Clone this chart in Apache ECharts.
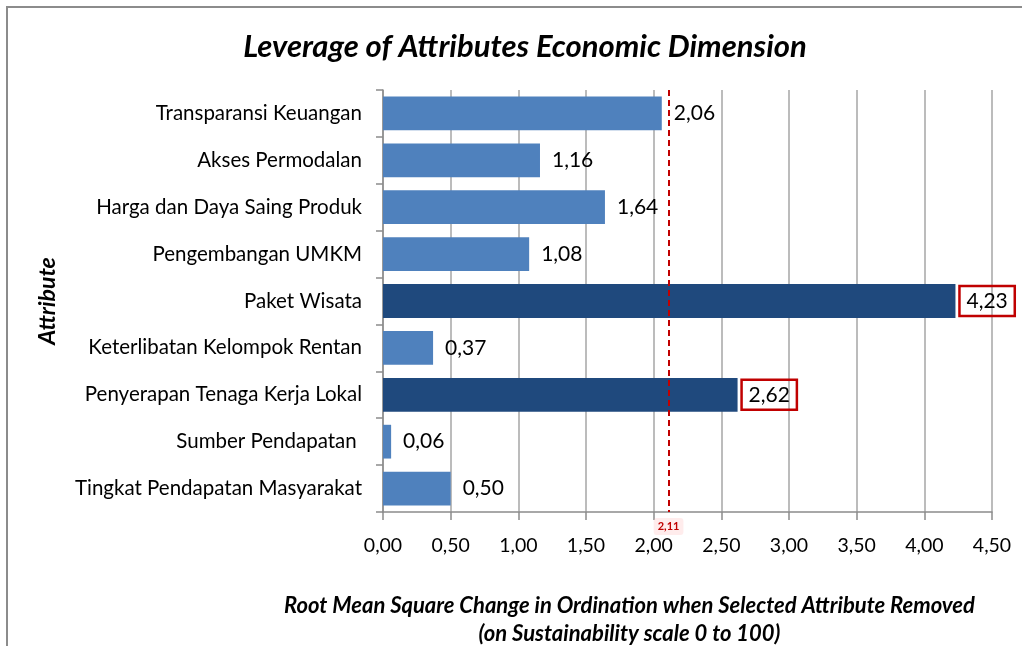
<!DOCTYPE html>
<html>
<head>
<meta charset="utf-8">
<script src="https://cdn.jsdelivr.net/npm/echarts@6/dist/echarts.min.js"></script>
<style>
html, body { margin: 0; padding: 0; background: #fff; }
#leverage_chart { width: 1022px; height: 646px; }
</style>
</head>
<body>
<div id="leverage_chart"></div>
<script>
var attributeNames = [
	'Transparansi Keuangan',
	'Akses Permodalan',
	'Harga dan Daya Saing Produk',
	'Pengembangan UMKM',
	'Paket Wisata',
	'Keterlibatan Kelompok Rentan',
	'Penyerapan Tenaga Kerja Lokal',
	'Sumber Pendapatan ',
	'Tingkat Pendapatan Masyarakat'
];
var rmsValues = [2.06, 1.16, 1.64, 1.08, 4.23, 0.37, 2.62, 0.06, 0.50];
var highlighted = [false, false, false, false, true, false, true, false, false];
var cutoffValue = 2.11;

var fontName = 'Lato, "Open Sans", sans-serif';

function fmtComma(v){
	return v.toFixed(2).replace('.', ',');
}

var chartInit = echarts.init(document.getElementById('leverage_chart'));

var barData = [];
for (var i = 0; i < rmsValues.length; i++) {
	barData.push({
		value : rmsValues[i],
		itemStyle : { color : highlighted[i] ? '#1F497D' : '#4F81BD' },
		label : highlighted[i] ? {
			borderColor : '#C00000',
			borderWidth : 2.5,
			padding : [5, 7, 4, 7],
			distance : 4
		} : {}
	});
}

var option = {
	animation : false,
	title : {
		text : 'Leverage of Attributes Economic Dimension',
		left : 520,
		textAlign : 'center',
		top : 26,
		textStyle : {
			fontFamily : fontName,
			fontSize : 31,
			fontWeight : 'bold',
			fontStyle : 'italic',
			color : '#000'
		}
	},
	graphic : [{
		type : 'rect',
		shape : { x : 7, y : 7, width : 1100, height : 700 },
		style : { fill : 'none', stroke : '#8c8c8c', lineWidth : 2 },
		silent : true
	}],
	grid : {
		left : 383,
		right : 30,
		top : 90,
		bottom : 134,
		outerBoundsMode : 'none'
	},
	xAxis : {
		type : 'value',
		min : 0,
		max : 4.5,
		interval : 0.5,
		name : 'Root Mean Square Change in Ordination when Selected Attribute Removed\n(on Sustainability scale 0 to 100)',
		nameLocation : 'middle',
		nameGap : 80,
		nameTextStyle : {
			fontFamily : fontName,
			fontSize : 22,
			fontWeight : 'bold',
			fontStyle : 'italic',
			color : '#000',
			lineHeight : 28,
			padding : [0, 116, 0, 0]
		},
		axisLine : { show : true, lineStyle : { color : '#8c8c8c', width : 1.5 } },
		axisTick : { show : true, length : 8, lineStyle : { color : '#8c8c8c', width : 1.5 } },
		axisLabel : {
			fontFamily : fontName,
			fontSize : 19.5,
			color : '#000',
			margin : 24,
			formatter : function(v){ return fmtComma(v); }
		},
		splitLine : { show : true, lineStyle : { color : '#a6a6a6', width : 1.5 } }
	},
	yAxis : {
		type : 'category',
		inverse : true,
		data : attributeNames,
		name : 'Attribute',
		nameLocation : 'middle',
		nameGap : 324,
		nameRotate : 90,
		nameTextStyle : {
			fontFamily : fontName,
			fontSize : 23,
			fontWeight : 'bold',
			fontStyle : 'italic',
			color : '#000'
		},
		axisLine : { show : true, lineStyle : { color : '#8c8c8c', width : 1.5 } },
		axisTick : { show : true, length : 7, lineStyle : { color : '#8c8c8c', width : 1.5 } },
		axisLabel : {
			fontFamily : fontName,
			fontSize : 20.5,
			color : '#000',
			margin : 21
		}
	},
	series : [{
		name : 'RMS',
		type : 'bar',
		barWidth : '72%',
		data : barData,
		label : {
			show : true,
			position : 'right',
			distance : 12,
			fontFamily : fontName,
			fontSize : 21,
			color : '#000',
			formatter : function(p){ return fmtComma(p.value); }
		},
		markLine : {
			silent : true,
			symbol : ['none', 'none'],
			lineStyle : { color : '#C00000', type : [6, 4], width : 2 },
			label : {
				show : true,
				position : 'end',
				distance : 6,
				fontFamily : fontName,
				fontSize : 11,
				fontWeight : 'bold',
				color : '#C00000',
				backgroundColor : 'rgba(255,200,200,0.35)',
				padding : [3, 4],
				borderRadius : 3,
				formatter : function(){ return fmtComma(cutoffValue); }
			},
			data : [{ xAxis : cutoffValue }]
		}
	}]
};
chartInit.setOption(option);
</script>
</body>
</html>
